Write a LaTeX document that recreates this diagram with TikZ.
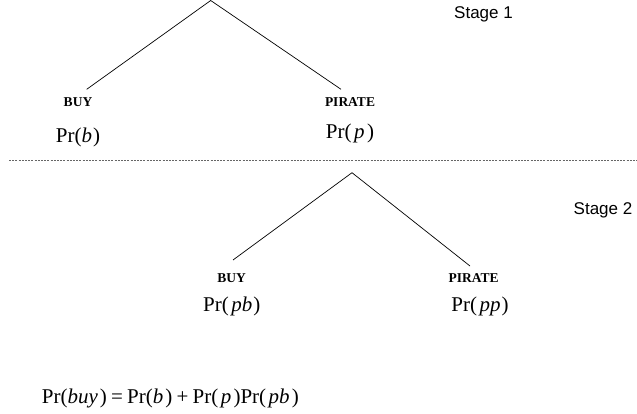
\documentclass[tikz,border=0pt]{standalone}
\usepackage{fontspec}
\setmainfont{Liberation Serif}
\setsansfont{Liberation Sans}
\usetikzlibrary{positioning}
\newcommand{\Prob}[1]{Pr(#1)}
\newcommand{\pgap}{\hspace{0.12em}}

\begin{document}
\begin{tikzpicture}[x=1pt, y=-1pt, every node/.style={inner sep=0pt},
    choice/.style={font=\bfseries\fontsize{13.5}{15}\selectfont},
    prob/.style={font=\fontsize{21}{23}\selectfont},
    stage/.style={font=\sffamily\fontsize{17}{19}\selectfont}]
  \useasboundingbox (0,0) rectangle (637,414);
  \coordinate (top1) at (210.7,0.5);
  \coordinate (buy1) at (86.7,89.3);
  \coordinate (pir1) at (341,89.3);
  \draw[line width=0.7pt] (buy1) -- (top1) -- (pir1);
  \node[choice] (buyl1) at (78,101.7) {BUY};
  \node[choice] (pirl1) at (350,101.7) {PIRATE};
  \node[prob] (prb) at (78,137) {\Prob{\textit{b}\hspace{0.05em}}};
  \node[prob] (prp) at (350,133) {\Prob{\pgap\textit{p}\pgap}};
  \node[stage] (st1) at (483.5,14) {Stage 1};
  \coordinate (cutl) at (9,160);
  \coordinate (cutr) at (637,160);
  \draw[black!60, line width=0.7pt, dash pattern=on 2pt off 1.2pt] (cutl) -- (cutr);
  \coordinate (top2) at (352,172.7);
  \coordinate (buy2) at (233,260);
  \coordinate (pir2) at (470,266);
  \draw[line width=0.7pt] (buy2) -- (top2) -- (pir2);
  \node[choice] (buyl2) at (231.7,278) {BUY};
  \node[choice] (pirl2) at (473.7,278.3) {PIRATE};
  \node[prob] (prpb) at (231.7,306.7) {\Prob{\pgap\textit{pb}\hspace{0.05em}}};
  \node[prob] (prpp) at (480,306.7) {\Prob{\pgap\textit{pp}\hspace{0.05em}}};
  \node[stage] (st2) at (603,210) {Stage 2};
  \node[prob, anchor=west] (total) at (41.7,398) {\Prob{\textit{buy}\hspace{0.1em}}\hspace{0.2em}=\hspace{0.2em}\Prob{\textit{b}\hspace{0.1em}}\hspace{0.2em}+\hspace{0.2em}\Prob{\pgap\textit{p}\hspace{0.1em}}\Prob{\pgap\textit{pb}\hspace{0.1em}}};
\end{tikzpicture}
\end{document}
